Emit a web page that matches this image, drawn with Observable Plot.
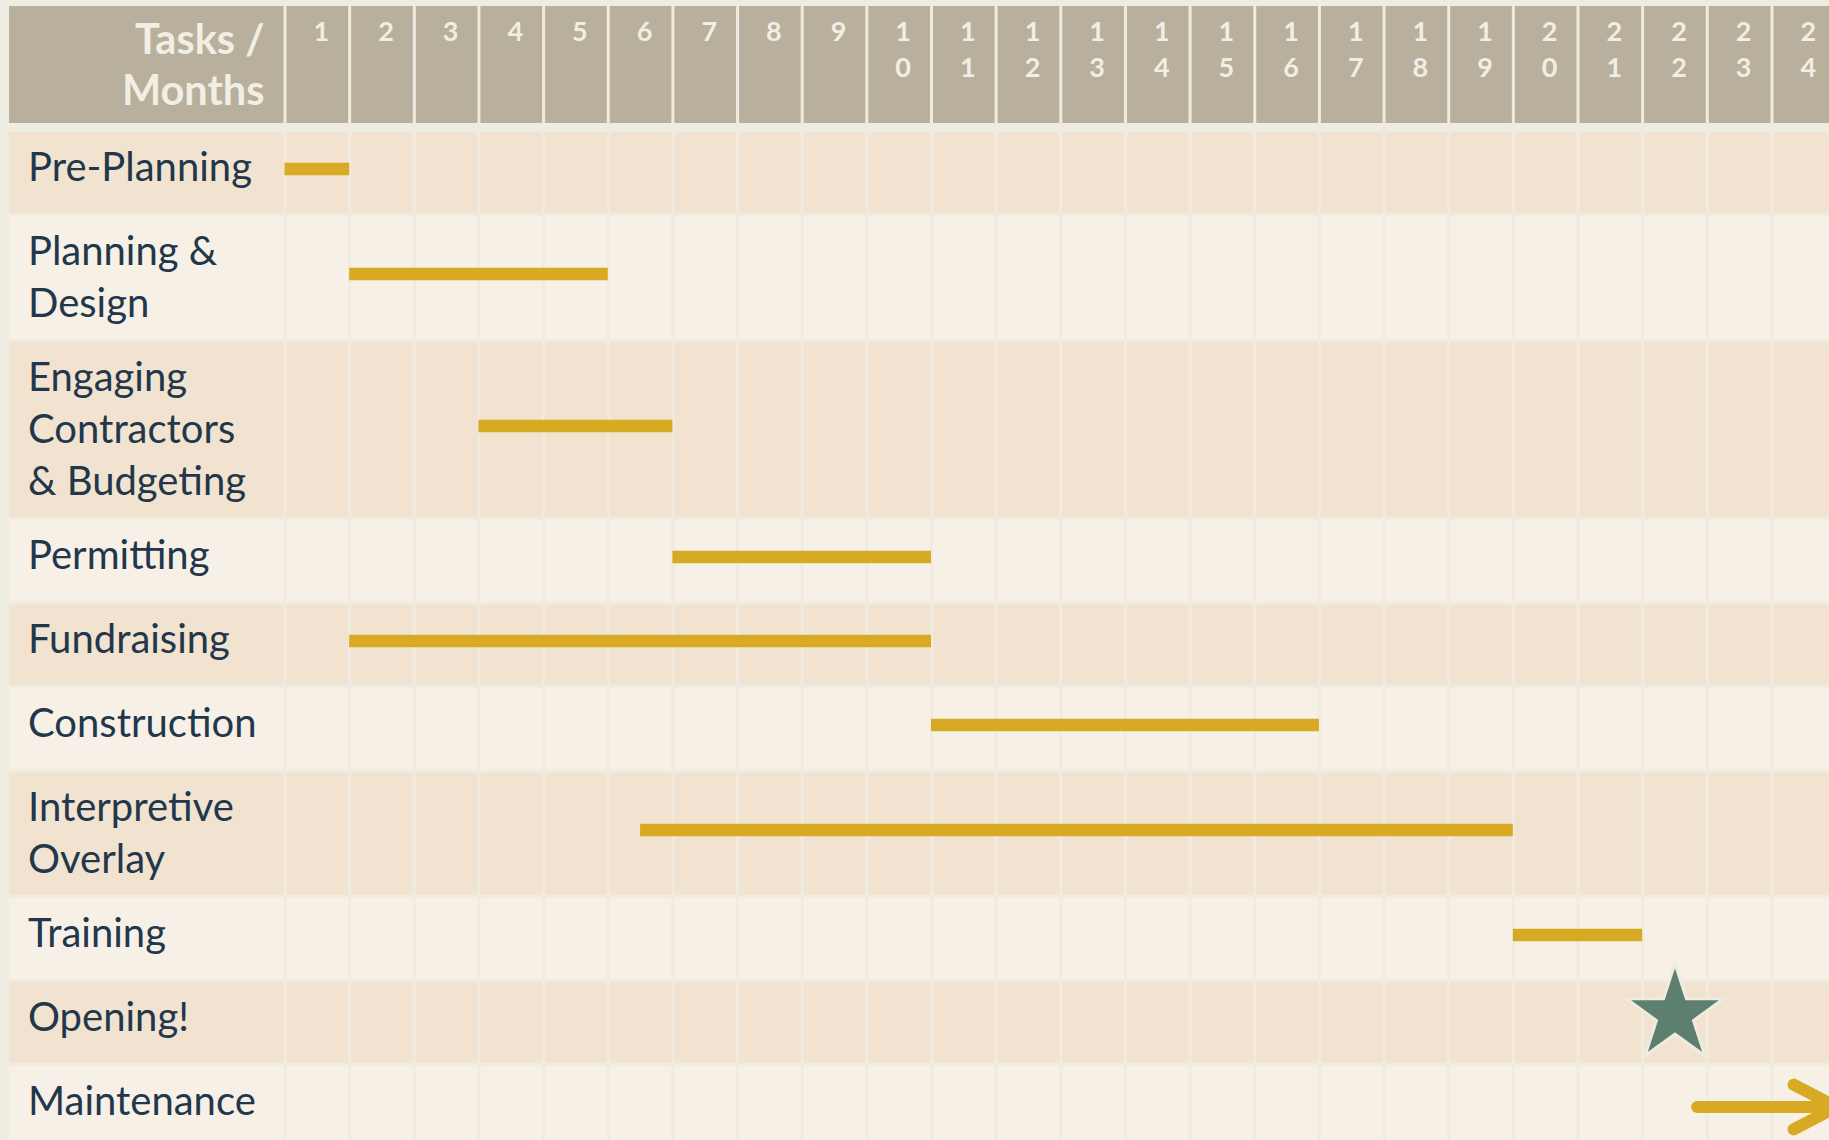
<!DOCTYPE html>
<html><head><meta charset="utf-8">
<script src="https://cdn.jsdelivr.net/npm/d3@7"></script>
<script src="https://cdn.jsdelivr.net/npm/@observablehq/plot@0.6"></script>
<style>
html,body{margin:0;padding:0;background:#efece2;overflow:hidden;}
#chart svg{display:block;max-width:none;}
</style></head><body><div id="chart"></div>
<script>
// ---- data ----
const tasks = ["Pre-Planning", "Planning &\nDesign", "Engaging\nContractors\n& Budgeting", "Permitting", "Fundraising",
  "Construction", "Interpretive\nOverlay", "Training", "Opening!", "Maintenance"];
const taskStart = [0, 1, 3, 6, 1, 10, 5.5, 19, null, 21.75];
const taskEnd   = [1, 5, 6, 10, 10, 16, 19, 21, null, 24];
const taskKind  = ["bar", "bar", "bar", "bar", "bar", "bar", "bar", "bar", "milestone", "ongoing"];
const milestoneMonth = [null, null, null, null, null, null, null, null, 21.5, null];
const monthLabels = ["1","2","3","4","5","6","7","8","9","10","11","12","13","14","15","16","17","18","19","20","21","22","23","24"];
const headerLabel = "Tasks /\nMonths";

// ---- layout ----
const W = 1829, H = 1140;
const X0 = 284.5, COL = 64.65;
const LABEL_LEFT = 9, LABEL_X = 27.5, HEADER_TEXT_RIGHT = 264;
const HEADER_TOP = 6, HEADER_BOTTOM = 123, BODY_TOP = 132, GAP = 3, LINE = 52, MIN_ROW = 84, ROW_PAD = 22;
const toMonth = px => (px - X0) / COL;

const C = {bg: "#efece2", header: "#b8b09c", headText: "#f1eee4", tan: "#f1e3cf", light: "#f7f0e6",
  grid: "#efebe0", bar: "#d8aa24", label: "#22374b", star: "#5c7f6f"};

let cursorY = BODY_TOP;
const rows = tasks.map((name, i) => {
  const lines = name.split("\n").length;
  const pitch = Math.max(MIN_ROW, lines * LINE + ROW_PAD);
  const r = {name, i, lines, y1: cursorY, y2: cursorY + pitch - GAP, yc: cursorY + (pitch - GAP) / 2,
    start: taskStart[i], end: taskEnd[i], kind: taskKind[i], mile: milestoneMonth[i]};
  cursorY += pitch;
  return r;
});

const chart = Plot.plot({
  width: W, height: H, margin: 0,
  x: {domain: [0, 24], range: [X0, X0 + 24 * COL], axis: null},
  y: {domain: [0, H], range: [0, H], axis: null},
  style: {background: C.bg, fontFamily: "Lato, 'Open Sans', sans-serif"},
  marks: [
    Plot.rect([0], {x1: toMonth(LABEL_LEFT), x2: 24, y1: HEADER_TOP, y2: HEADER_BOTTOM, fill: C.header}),
    Plot.rect(rows, {x1: toMonth(LABEL_LEFT), x2: 24, y1: "y1", y2: "y2", fill: d => d.i % 2 ? C.light : C.tan}),
    Plot.ruleX(d3.range(0, 24), {y1: HEADER_TOP, y2: H, stroke: C.grid, strokeWidth: 3}),
    Plot.text(monthLabels, {x: (d, i) => i + 0.5, y: 15, text: d => d.split("").join("\n"), dx: 4,
      fill: C.headText, fontWeight: "bold", fontSize: 27, lineHeight: 1.335, lineAnchor: "top"}),
    Plot.text([headerLabel], {x: toMonth(HEADER_TEXT_RIGHT), y: 17, text: d => d, textAnchor: "end",
      lineAnchor: "top", fontSize: 41.5, fontWeight: "bold", fill: C.headText, lineHeight: 51 / 41.5}),
    Plot.text(rows, {x: toMonth(LABEL_X), y: d => d.yc + (d.lines === 1 ? -8.5 : -3.5), text: "name",
      textAnchor: "start", lineAnchor: "middle", fontSize: 40, lineHeight: 1.3, fill: C.label}),
    Plot.ruleY(rows.filter(d => d.kind === "bar"), {y: d => d.yc - 4, x1: "start", x2: "end",
      stroke: C.bar, strokeWidth: 12.3}),
    Plot.dot(rows.filter(d => d.kind === "milestone"), {x: "mile", y: d => d.yc - 8.5, symbol: "star", r: 30.5,
      fill: C.star, stroke: "#f0ebdf", strokeWidth: 3}),
    Plot.arrow(rows.filter(d => d.kind === "ongoing"), {x1: "start", x2: "end", y1: "yc", y2: "yc",
      stroke: C.bar, strokeWidth: 12, headAngle: 55, headLength: 10, strokeLinecap: "round",
      strokeLinejoin: "round", insetStart: 6})
  ]
});
document.getElementById("chart").append(chart);
</script></body></html>
